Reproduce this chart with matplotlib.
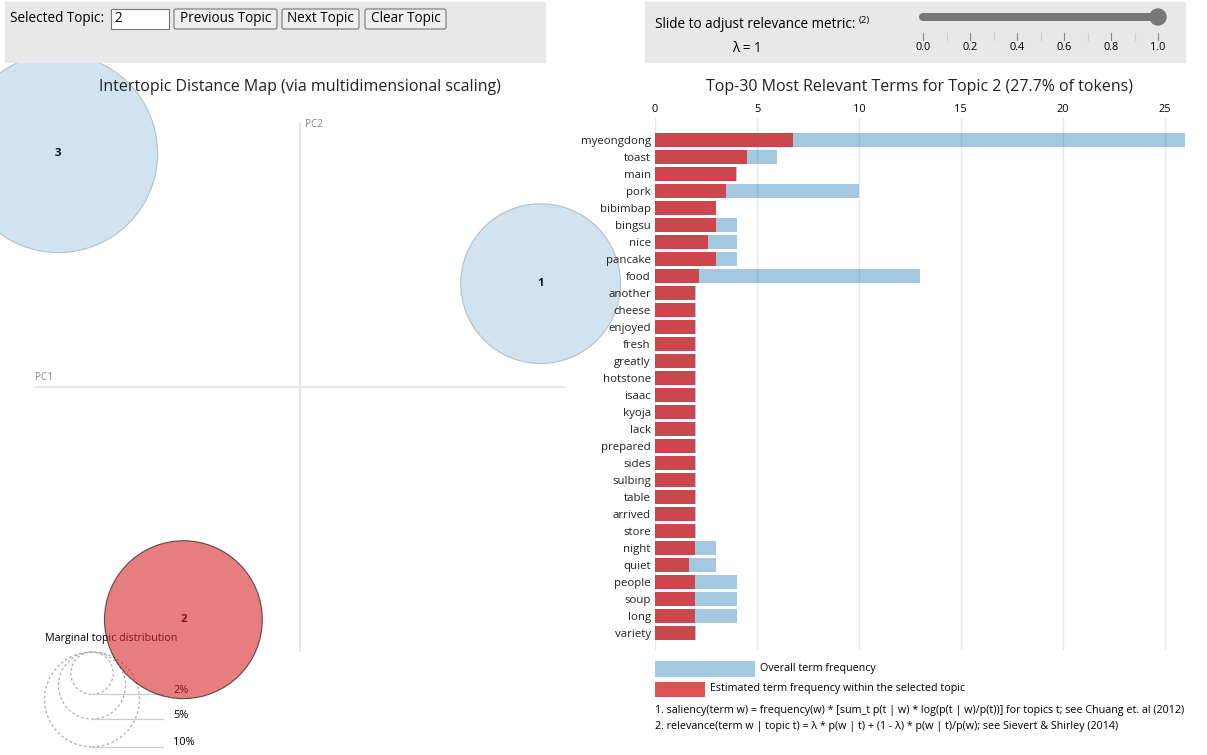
import numpy as np
import matplotlib
matplotlib.use("Agg")
import matplotlib.pyplot as plt
from matplotlib.patches import Circle, Rectangle, FancyBboxPatch

plt.rcParams['font.family'] = ['Open Sans', 'DejaVu Sans']

# ------------- DATA --------------
topic_ids = [1, 2, 3]
topic_pc1 = [0.227, -0.110, -0.228]
topic_pc2 = [0.0975, -0.2195, 0.2205]
topic_pct = [28.4, 27.7, 43.9]   # marginal topic distribution (% of tokens)
selected_topic = 2
legend_pct = [2, 5, 10]

terms = ['myeongdong', 'toast', 'main', 'pork', 'bibimbap', 'bingsu', 'nice',
         'pancake', 'food', 'another', 'cheese', 'enjoyed', 'fresh', 'greatly',
         'hotstone', 'isaac', 'kyoja', 'lack', 'prepared', 'sides', 'sulbing',
         'table', 'arrived', 'store', 'night', 'quiet', 'people', 'soup', 'long',
         'variety']
overall_freq = [26.0, 6.0, 4.0, 10.0, 3.0, 4.0, 4.0, 4.0, 13.0, 2.0, 2.0, 2.0,
                2.0, 2.0, 2.0, 2.0, 2.0, 2.0, 2.0, 2.0, 2.0, 2.0, 2.0, 2.0,
                3.0, 3.0, 4.0, 4.0, 4.0, 2.0]
topic_freq = [6.77, 4.53, 3.98, 3.50, 2.98, 2.97, 2.60, 2.97, 2.15, 1.98, 1.98,
              1.98, 1.98, 1.98, 1.98, 1.98, 1.98, 1.98, 1.98, 1.98, 1.98, 1.98,
              1.98, 1.98, 1.96, 1.66, 1.96, 1.96, 1.96, 1.94]
freq_ticks = [0, 5, 10, 15, 20, 25]
lambda_ticks = [0.0, 0.2, 0.4, 0.6, 0.8, 1.0]
lambda_value = 1

# ------------- LAYOUT (pixels) --------------
W, H = 1207, 755
PX = 0.72  # px -> pt at dpi 100
blue = '#1f77b4'
red = '#d62728'

def fbox(x, y, w, h):
    # pixel box (top-left origin) -> figure fraction rect
    return [x / W, 1 - (y + h) / H, w / W, h / H]

fig = plt.figure(figsize=(W / 100, H / 100), dpi=100)

# ---- intertopic distance map ----
ax = fig.add_axes(fbox(35, 122, 530, 530), zorder=1)
ax.set_xlim(-0.25, 0.25)
ax.set_ylim(-0.25, 0.25)
ax.axis('off')
px_per_unit = 530 / 0.5
rscale = 15 / px_per_unit

ax.axhline(0, color='#e3e3e3', lw=1.2)
ax.axvline(0, color='#e3e3e3', lw=1.2)
ax.text(-0.25, 4 / px_per_unit, 'PC1', color='#888888', fontsize=10 * PX,
        ha='left', va='bottom')
ax.text(5 / px_per_unit, 0.25 - 3 / px_per_unit, 'PC2', color='#888888',
        fontsize=10 * PX, ha='left', va='center')

clip = Rectangle((5 / W, 0), 1, 1, transform=fig.transFigure, visible=False)
fig.add_artist(clip)

# marginal distribution legend
lx = -208 / px_per_unit
for p in legend_pct:
    r = rscale * np.sqrt(p)
    cy = -0.25 - r
    ax.add_patch(Circle((lx, cy), r, fill=False, ec='#aaaaaa', lw=0.9,
                        ls=(0, (2, 2)), clip_on=False, zorder=2))
    ax.plot([lx, -137 / px_per_unit], [cy - r, cy - r], color='#cccccc',
            lw=0.9, clip_on=False, zorder=2)
    ax.text(-127 / px_per_unit, cy - r + 4 / px_per_unit, f'{p}%',
            fontsize=11 * PX, ha='left', va='center', color='black',
            clip_on=False, zorder=2)
ax.text(-255 / px_per_unit, -251 / px_per_unit, 'Marginal topic distribution',
        fontsize=10.8 * PX, ha='left', va='center', zorder=2)

for tid, x, y, p in zip(topic_ids, topic_pc1, topic_pc2, topic_pct):
    sel = tid == selected_topic
    c = Circle((x, y), rscale * np.sqrt(p), fc=red if sel else blue,
               ec='black', lw=0.8, alpha=0.6 if sel else 0.2,
               clip_on=False, zorder=5)
    ax.add_patch(c)
    c.set_clip_path(clip)
    ax.text(x, y, str(tid), fontsize=11.5 * PX, fontweight='bold', ha='center',
            va='center', zorder=4)

# ---- bar chart of relevant terms ----
bx = fig.add_axes(fbox(655, 118, 530, 532), zorder=2)
bx.patch.set_alpha(0)
ypos = np.arange(len(terms))
bx.barh(ypos, overall_freq, height=0.82, color=blue, alpha=0.4, zorder=2)
bx.barh(ypos, topic_freq, height=0.82, color=red, alpha=0.8, zorder=3)
bx.set_xlim(0, 26)
bx.set_ylim(30.0, -1.3)
bx.set_yticks(ypos)
bx.set_yticklabels(terms, fontsize=11.5 * PX, color='#222222')
bx.xaxis.tick_top()
bx.set_xticks(freq_ticks)
bx.set_xticklabels([str(t) for t in freq_ticks], fontsize=11 * PX)
bx.tick_params(length=0, pad=3)
bx.tick_params(axis='x', pad=2)
bx.grid(axis='x', color='#e8e8e8', lw=1, zorder=0)
bx.set_axisbelow(True)
for s in bx.spines.values():
    s.set_visible(False)

# ---- titles, header controls, legend (pixel overlay) ----
ui = fig.add_axes([0, 0, 1, 1], zorder=3)
ui.set_xlim(0, W)
ui.set_ylim(H, 0)
ui.axis('off')

ui.text(300, 87, 'Intertopic Distance Map (via multidimensional scaling)',
        fontsize=16 * PX, ha='center', va='center', color='#222222')
idx = topic_ids.index(selected_topic)
ui.text(920, 87, f'Top-30 Most Relevant Terms for Topic {selected_topic} '
        f'({topic_pct[idx]}% of tokens)',
        fontsize=16 * PX, ha='center', va='center', color='#222222')

ui.add_patch(Rectangle((5, 2), 540, 60, color='#e8e8e8', zorder=1))
ui.add_patch(Rectangle((645, 2), 540, 60, color='#e8e8e8', zorder=1))

ui.text(10, 19, 'Selected Topic:', fontsize=13.5 * PX, ha='left', va='center',
        zorder=3)
ui.add_patch(Rectangle((111, 9), 58, 20, fc='white', ec='#767676', lw=0.8,
                       zorder=2))
ui.text(114, 19, str(selected_topic), fontsize=13.5 * PX, ha='left',
        va='center', zorder=3)
for label, x0, w in [('Previous Topic', 174, 103), ('Next Topic', 282, 77),
                     ('Clear Topic', 365, 81)]:
    ui.add_patch(FancyBboxPatch((x0, 9), w, 20,
                                boxstyle='round,pad=0,rounding_size=2',
                                fc='#efefef', ec='#767676', lw=0.8, zorder=2))
    ui.text(x0 + w / 2, 19, label, fontsize=13.5 * PX, ha='center',
            va='center', zorder=3)

ui.text(655, 25, 'Slide to adjust relevance metric:', fontsize=13.5 * PX,
        ha='left', va='center', zorder=3)
ui.text(859, 20, '(2)', fontsize=9.5 * PX, ha='left', va='center', zorder=3)
ui.text(747, 48, f'\u03bb = {lambda_value}', fontsize=13.5 * PX, ha='center',
        va='center', zorder=3)

s0, s1 = 923, 1158
ui.plot([s0, s1], [17, 17], color='#777777', lw=8 * PX,
        solid_capstyle='round', zorder=3)
ui.add_patch(Circle((s0 + lambda_value * (s1 - s0), 17), 8, color='#777777',
                    zorder=4))
for i in range(11):
    v = i / 10
    xv = s0 + v * (s1 - s0)
    major = i % 2 == 0
    ui.plot([xv, xv], [33, 40], color='#888888' if major else '#cccccc',
            lw=0.8, zorder=3)
for v in lambda_ticks:
    ui.text(s0 + v * (s1 - s0), 47, f'{v:.1f}', fontsize=11 * PX,
            ha='center', va='center', zorder=3)

# legend for bars
ui.add_patch(Rectangle((655, 661), 100, 16, color=blue, alpha=0.4, lw=0))
ui.add_patch(Rectangle((655, 682), 50, 15, color=red, alpha=0.8, lw=0))
ui.text(760, 668, 'Overall term frequency', fontsize=10.8 * PX, ha='left',
        va='center')
ui.text(710, 688, 'Estimated term frequency within the selected topic',
        fontsize=10.8 * PX, ha='left', va='center')
ui.text(655, 711, '1. saliency(term w) = frequency(w) * [sum_t p(t | w) * '
        'log(p(t | w)/p(t))] for topics t; see Chuang et. al (2012)',
        fontsize=10.8 * PX, ha='left', va='center')
ui.text(655, 726, '2. relevance(term w | topic t) = \u03bb * p(w | t) + '
        '(1 - \u03bb) * p(w | t)/p(w); see Sievert & Shirley (2014)',
        fontsize=10.8 * PX, ha='left', va='center')

fig.savefig('out.png', dpi=100)
